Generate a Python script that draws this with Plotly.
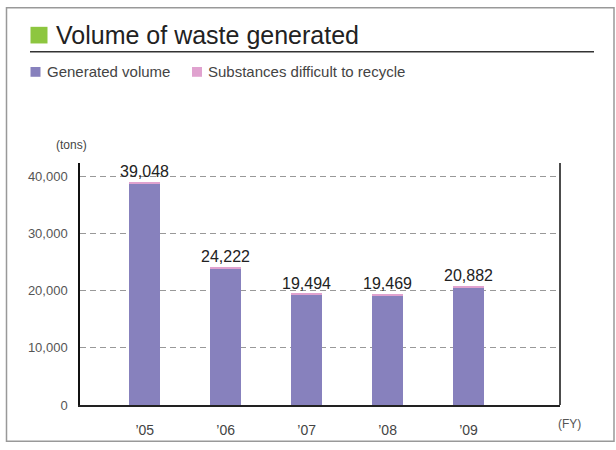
import plotly.graph_objects as go

categories = ["’05", "’06", "’07", "’08", "’09"]
totals = [39048, 24222, 19494, 19469, 20882]
difficult = [300, 350, 200, 280, 280]
generated = [t - d for t, d in zip(totals, difficult)]
tick_vals = [0, 10000, 20000, 30000, 40000]
tick_text = ["0", "10,000", "20,000", "30,000", "40,000"]

W, H = 616, 450
L, R, T, B = 80, 560, 163, 410  # plot area in pixels

def px(x):
    return (x - L) / (R - L)

def py(y):
    return (B - y) / (B - T)

PURPLE = "#8781bd"
PINK = "#e0a2cf"
FONT = "Liberation Sans, Arial, sans-serif"

fig = go.Figure()
fig.add_trace(go.Bar(x=categories, y=generated, name="Generated volume",
                     marker=dict(color=PURPLE, line=dict(width=0)), width=0.38))
fig.add_trace(go.Bar(x=categories, y=difficult, name="Substances difficult to recycle",
                     marker=dict(color=PINK, line=dict(width=0)), width=0.38))

annotations = []
for c, t in zip(categories, totals):
    annotations.append(dict(x=c, y=t, text=f"{t:,}", showarrow=False, yanchor="bottom",
                            yshift=0, font=dict(size=16, color="#222", family=FONT)))

annotations += [
    dict(xref="paper", yref="paper", x=px(54), y=py(32), text="Volume of waste generated",
         showarrow=False, xanchor="left", yanchor="middle",
         font=dict(size=25, color="#222", family=FONT)),
    dict(xref="paper", yref="paper", x=px(45), y=py(70), text="Generated volume",
         showarrow=False, xanchor="left", yanchor="middle",
         font=dict(size=15, color="#444", family=FONT)),
    dict(xref="paper", yref="paper", x=px(206), y=py(70), text="Substances difficult to recycle",
         showarrow=False, xanchor="left", yanchor="middle",
         font=dict(size=15, color="#444", family=FONT)),
    dict(xref="paper", yref="paper", x=px(71), y=py(145), text="(tons)",
         showarrow=False, xanchor="center", yanchor="middle",
         font=dict(size=12, color="#444", family=FONT)),
    dict(xref="paper", yref="paper", x=px(569), y=py(429), text="(FY)",
         showarrow=False, xanchor="center", yanchor="middle",
         font=dict(size=12, color="#555", family=FONT)),
]

shapes = [
    dict(type="rect", xref="paper", yref="paper", x0=px(6.5), x1=px(614), y0=py(4.5), y1=py(447),
         line=dict(color="#999", width=1.5), fillcolor="rgba(0,0,0,0)", layer="below"),
    dict(type="rect", xref="paper", yref="paper", x0=px(30.5), x1=px(47.5), y0=py(24), y1=py(41),
         line=dict(width=0), fillcolor="#8dc63f"),
    dict(type="line", xref="paper", yref="paper", x0=px(30), x1=px(594), y0=py(49.5), y1=py(49.5),
         line=dict(color="#333", width=1.5)),
    dict(type="rect", xref="paper", yref="paper", x0=px(30.5), x1=px(40.5), y0=py(65), y1=py(75),
         line=dict(width=0), fillcolor=PURPLE),
    dict(type="rect", xref="paper", yref="paper", x0=px(192), x1=px(202), y0=py(65), y1=py(75),
         line=dict(width=0), fillcolor=PINK),
    dict(type="line", xref="paper", yref="paper", x0=1, x1=1, y0=0, y1=1,
         line=dict(color="#111", width=1.5)),
]

fig.update_layout(
    width=W, height=H, barmode="stack", showlegend=False,
    margin=dict(l=L, r=W - R, t=T, b=H - B, pad=0),
    paper_bgcolor="white", plot_bgcolor="white",
    font=dict(family=FONT, color="#444"),
    annotations=annotations, shapes=shapes,
    xaxis=dict(range=[-0.8, 5.13], showline=True, linecolor="#222", linewidth=2,
               ticks="outside", ticklen=11, tickcolor="rgba(0,0,0,0)",
               tickfont=dict(size=14, color="#444", family=FONT), showgrid=False, fixedrange=True),
    yaxis=dict(range=[0, 42400], tickvals=tick_vals, ticktext=tick_text,
               showline=True, linecolor="#111", linewidth=1.5,
               ticks="outside", ticklen=8, tickcolor="rgba(0,0,0,0)",
               tickfont=dict(size=13, color="#555", family=FONT),
               showgrid=True, gridcolor="#999", griddash="6px,4px", gridwidth=1,
               zeroline=False, fixedrange=True),
)

fig.write_html("out.html", config={"displayModeBar": False},
               post_script="document.body.style.margin='0';document.body.style.overflow='hidden';")
